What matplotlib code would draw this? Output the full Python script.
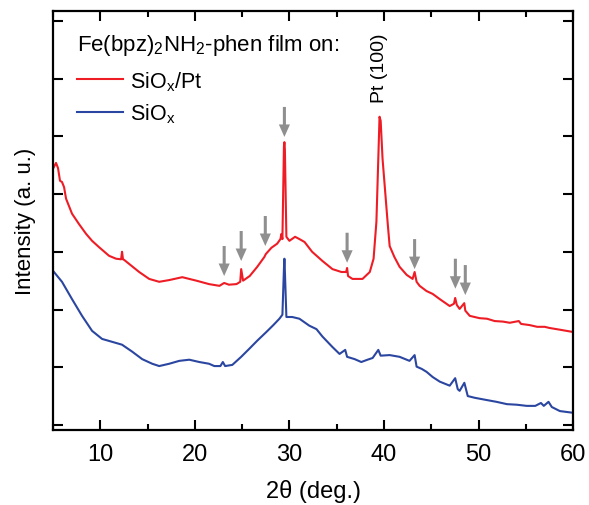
import numpy as np
import matplotlib.pyplot as plt

plt.rcParams['font.family'] = ['Liberation Sans', 'DejaVu Sans']

# XRD patterns (2theta in deg, intensity in a.u.)
tt_pt = [5.0, 5.32, 5.53, 5.74, 5.95, 6.17, 6.38, 7.01, 7.75, 8.5, 9.13, 9.87, 10.93,
         11.67, 12.2, 12.3, 12.4, 12.52, 13.05, 14.11, 15.17, 16.23, 17.29, 18.67,
         20.15, 21.5, 22.6, 23.1, 23.6, 24.4, 24.8, 24.9, 25.1, 25.8, 26.6, 27.35,
         27.5, 28.1, 28.7, 29.05, 29.15, 29.26, 29.42, 29.47, 29.52, 29.68, 30.0,
         30.6, 31.06, 31.6, 32.4, 33.5, 34.55, 35.5, 36.0, 36.1, 36.2, 36.67, 37.73,
         38.5, 38.9, 39.2, 39.43, 39.53, 39.65, 39.85, 40.06, 40.4, 40.6, 41.1, 41.65,
         42.4, 43.03, 43.24, 43.45, 43.77, 44.5, 45.15, 45.9, 46.95, 47.4, 47.53,
         47.7, 48.0, 48.49, 48.6, 49.07, 50.1, 50.9, 51.7, 52.6, 53.3, 54.26, 54.5,
         55.4, 56.2, 57.0, 57.5, 58.6, 60.0]
int_pt = [4.44, 4.54, 4.45, 4.23, 4.21, 4.12, 3.92, 3.66, 3.48, 3.31, 3.19, 3.08, 2.93,
          2.88, 2.87, 3.00, 2.87, 2.86, 2.79, 2.65, 2.53, 2.48, 2.51, 2.56,
          2.50, 2.44, 2.41, 2.46, 2.43, 2.44, 2.48, 2.70, 2.50, 2.58, 2.74, 2.91,
          2.96, 3.07, 3.14, 3.22, 3.31, 3.22, 4.82, 4.90, 4.78, 3.26, 3.19,
          3.26, 3.22, 3.17, 3.00, 2.84, 2.70, 2.65, 2.65, 2.72, 2.58, 2.53, 2.53,
          2.65, 2.88, 3.52, 4.78, 5.34, 5.27, 4.61, 4.18, 3.48, 3.10, 2.91, 2.74,
          2.60, 2.53, 2.65, 2.48, 2.41, 2.32, 2.27, 2.18, 2.06, 2.10, 2.20,
          2.08, 2.01, 2.11, 1.98, 1.89, 1.85, 1.84, 1.80, 1.79, 1.77, 1.80, 1.75,
          1.73, 1.70, 1.70, 1.68, 1.65, 1.61]

tt_si = [5.0, 5.95, 7.01, 8.07, 9.13, 10.19, 11.25, 12.3, 13.37, 14.43, 15.49, 16.23,
         17.29, 18.35, 19.41, 20.47, 21.5, 22.06, 22.7, 22.96, 23.2, 23.96,
         24.9, 25.76, 26.6, 27.56, 28.3, 28.94, 29.26, 29.42, 29.47, 29.52, 29.68, 30.3,
         31.06, 32.1, 32.86, 33.5, 34.55, 35.3, 35.9, 36.1, 36.9, 37.6, 38.26, 38.8,
         39.4, 39.65, 40.6, 41.65, 42.7, 43.24, 43.45, 44.0, 44.5, 45.15, 45.9, 46.95,
         47.53, 47.8, 48.0, 48.5, 48.86, 49.6, 50.9, 51.9, 53.0, 54.05, 55.1, 56.0,
         56.6, 56.9, 57.4, 57.75, 58.6, 60.0]
int_si = [2.67, 2.48, 2.18, 1.89, 1.63, 1.49, 1.44, 1.39, 1.27, 1.14, 1.06, 1.02,
          1.06, 1.11, 1.13, 1.09, 1.06, 1.02, 1.02, 1.09, 1.02, 1.04,
          1.18, 1.32, 1.46, 1.61, 1.73, 1.84, 1.91, 2.70, 2.88, 2.67, 1.87, 1.87,
          1.84, 1.72, 1.66, 1.53, 1.35, 1.23, 1.30, 1.18, 1.14, 1.09, 1.13, 1.16,
          1.30, 1.20, 1.21, 1.18, 1.11, 1.21, 1.01, 0.97, 0.92, 0.83, 0.75, 0.68,
          0.81, 0.62, 0.59, 0.73, 0.50, 0.47, 0.43, 0.40, 0.36, 0.35, 0.33, 0.33,
          0.38, 0.33, 0.40, 0.31, 0.24, 0.21]

# arrows marking film reflections: position and tip height
arrow_x = [23.1, 24.9, 27.45, 29.47, 36.1, 43.24, 47.55, 48.6]
arrow_tip = [2.58, 2.84, 3.10, 4.99, 2.81, 2.70, 2.36, 2.25]
arrow_len = 0.52

fig = plt.figure(figsize=(5.89, 5.06), dpi=100)
ax = fig.add_axes([0.09, 0.148, 0.883, 0.828])

ax.plot(tt_pt, int_pt, color='#ee1c25', lw=1.5, label='SiO$_\\mathregular{x}$/Pt')
ax.plot(tt_si, int_si, color='#2b46a0', lw=1.5, label='SiO$_\\mathregular{x}$')

for xa, ya in zip(arrow_x, arrow_tip):
    ax.annotate('', xy=(xa, ya), xytext=(xa, ya + arrow_len),
                arrowprops=dict(facecolor='#8f8f8f', edgecolor='none', width=2.2,
                                headwidth=8, headlength=9, shrink=0))

ax.text(39.55, 5.6, 'Pt (100)', rotation=90, ha='center', va='bottom', fontsize=14)

ax.set_xlim(5, 60)
ax.set_ylim(-0.09, 7.17)
ax.set_xticks([10, 20, 30, 40, 50, 60])
ax.set_xticks([5, 15, 25, 35, 45, 55], minor=True)
ax.set_yticks(np.arange(0, 8))
ax.set_yticklabels([])
ax.tick_params(which='both', direction='in', top=True, right=True, width=1.5)
ax.tick_params(which='major', length=7, labelsize=17, pad=9)
ax.tick_params(which='minor', length=4)
for s in ax.spines.values():
    s.set_linewidth(1.6)

ax.set_xlabel('2\u03b8 (deg.)', fontsize=17, labelpad=10)
ax.set_ylabel('Intensity (a. u.)', fontsize=16, labelpad=3)

ax.text(0.046, 0.907, 'Fe(bpz)$_\\mathregular{2}$NH$_\\mathregular{2}$-phen film on:',
        transform=ax.transAxes, fontsize=16, va='baseline', ha='left')
ax.legend(loc='upper left', bbox_to_anchor=(0.046, 0.862), frameon=False,
          fontsize=15.5, handlelength=2.15, handletextpad=0.3, labelspacing=0.4,
          borderpad=0, borderaxespad=0)

fig.savefig('out.png', dpi=100)
